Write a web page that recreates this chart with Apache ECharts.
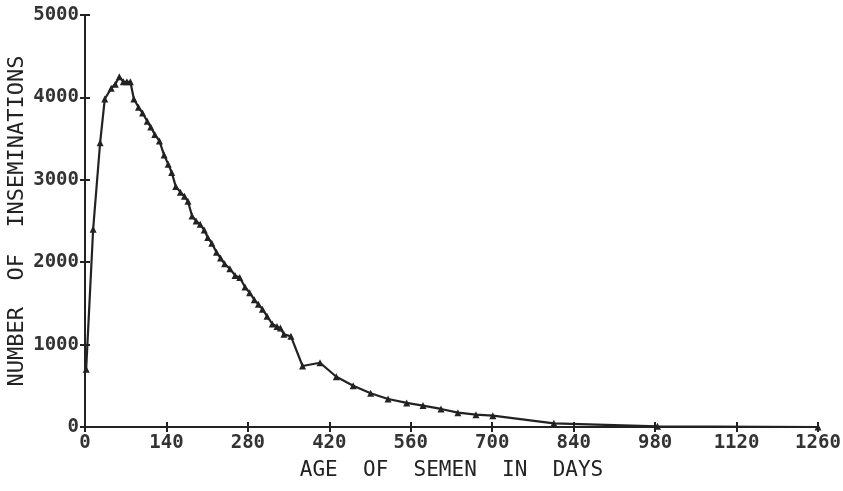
<!DOCTYPE html>
<html><head><meta charset="utf-8">
<script src="https://cdn.jsdelivr.net/npm/echarts@6/dist/echarts.min.js"></script>
<style>html,body{margin:0;padding:0;background:#fff}#c{width:843px;height:491px}</style>
</head><body><div id="c"></div>
<script>
const days = [2,14,26,34,45,52,59,66,72,78,84,92,99,107,113,120,128,136,143,149,156,164,171,177,184,191,198,205,211,218,226,233,240,249,258,266,275,283,291,298,305,313,322,330,336,342,354,374,404,432,461,491,521,553,581,612,641,672,701,806,984,1260];
const inseminations = [700,2400,3450,3980,4110,4160,4250,4190,4190,4190,3980,3880,3810,3710,3640,3550,3470,3300,3190,3090,2920,2850,2800,2740,2560,2500,2460,2390,2300,2230,2120,2050,1980,1920,1840,1815,1700,1630,1545,1490,1430,1345,1250,1220,1200,1125,1100,740,780,610,500,410,340,292,260,219,174,150,137,45,8,0];
const xTicks = [0,140,280,420,560,700,840,980,1120,1260];
const yTicks = [0,1000,2000,3000,4000,5000];

const ink = '#222';
const font = 'DejaVu Sans Mono';
const chart = echarts.init(document.getElementById('c'));
const baseX = {
  type:'value', min:0, max:1260, interval:140,
  axisLine:{show:true, onZero:false, lineStyle:{color:ink,width:2}},
  axisTick:{show:true, length:5, lineStyle:{color:ink,width:2}},
  splitLine:{show:false}
};
const baseY = {
  type:'value', min:0, max:5000, interval:1000,
  axisLine:{show:true, onZero:false, lineStyle:{color:ink,width:2}},
  axisTick:{show:true, length:5, lineStyle:{color:ink,width:2}},
  splitLine:{show:false}
};
chart.setOption({
  backgroundColor:'#fff',
  animation:false,
  grid:{left:85, right:25, top:15, bottom:64, containLabel:false, outerBoundsMode:'none'},
  xAxis:[
    Object.assign({}, baseX, {
      position:'bottom',
      name:'AGE  OF  SEMEN  IN  DAYS', nameLocation:'middle', nameGap:33, nameMoveOverlap:false,
      nameTextStyle:{fontFamily:font, fontSize:21, color:ink},
      axisLabel:{fontFamily:font, fontSize:19, fontWeight:'bold', color:'#333', margin:7,
        formatter:v=>xTicks.includes(v)?String(v):''}
    }),
    Object.assign({}, baseX, {
      position:'bottom', axisTick:{show:true, inside:true, length:5, lineStyle:{color:ink,width:2}},
      axisLabel:{show:false}
    })
  ],
  yAxis:[
    Object.assign({}, baseY, {
      position:'left',
      name:'NUMBER  OF  INSEMINATIONS', nameLocation:'middle', nameGap:57, nameRotate:90, nameMoveOverlap:false,
      nameTextStyle:{fontFamily:font, fontSize:22, color:ink},
      axisLabel:{fontFamily:font, fontSize:19, fontWeight:'bold', color:'#333', margin:6,
        formatter:v=>yTicks.includes(v)?String(v):''}
    }),
    Object.assign({}, baseY, {
      position:'left', offset:0, axisTick:{show:true, inside:true, length:5, lineStyle:{color:ink,width:2}},
      axisLabel:{show:false}
    })
  ],
  series:[{
    type:'line', xAxisIndex:0, yAxisIndex:0,
    data: days.map((d,i)=>[d, inseminations[i]]),
    symbol:'triangle', symbolSize:7, showSymbol:true,
    lineStyle:{color:ink, width:2.2},
    itemStyle:{color:ink},
    clip:false
  }]
});
</script></body></html>
